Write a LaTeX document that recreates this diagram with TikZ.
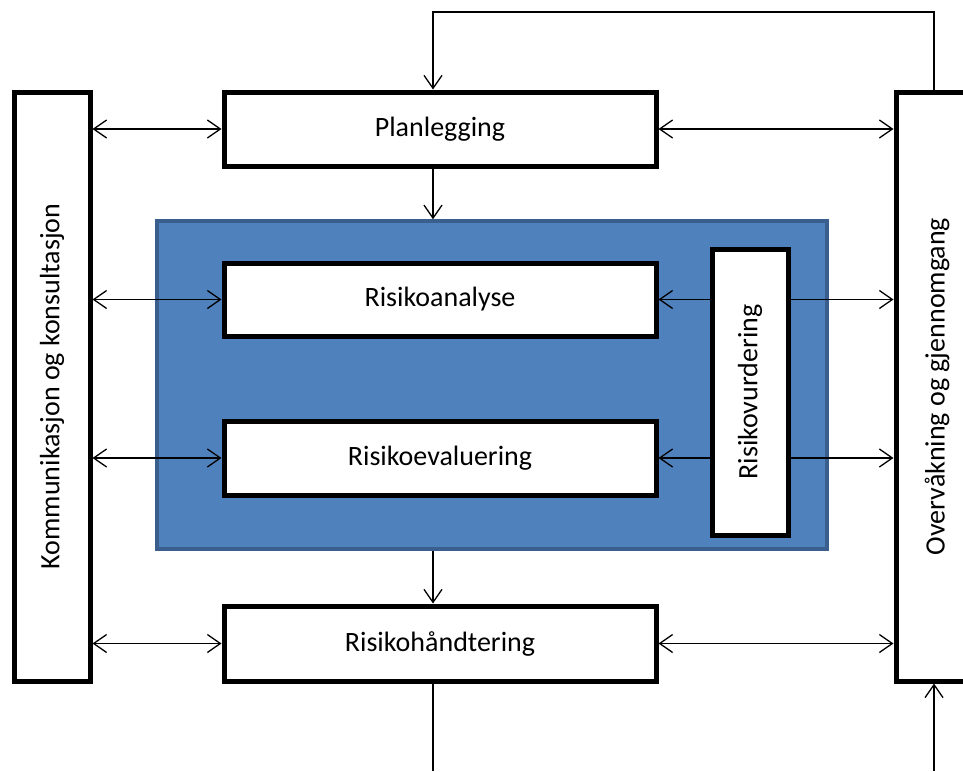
\documentclass[tikz,border=0pt]{standalone}
\usepackage{fontspec}
\setmainfont{Carlito}
\usetikzlibrary{arrows.meta}
\definecolor{panelblue}{HTML}{4F81BD}
\definecolor{paneledge}{HTML}{3A5F8F}
\begin{document}
\begin{tikzpicture}[x=1pt,y=-1pt,
  box/.style={draw=black, line width=5pt, fill=white, rectangle,
    font=\fontsize{28}{32}\selectfont, inner sep=0pt},
  vbox/.style={box, rotate=90},
  link/.style={line width=1.3pt, {Straight Barb[length=13pt,width=18pt,line width=1.3pt]}-{Straight Barb[length=13pt,width=18pt,line width=1.3pt]}},
  flow/.style={line width=1.3pt, -{Straight Barb[length=13pt,width=18pt,line width=1.3pt]}},
  plain/.style={line width=1.3pt}]
\useasboundingbox (0,0) rectangle (963,771);
\clip (0,0) rectangle (963,771);

% blue panel holding the risk assessment steps
\node[draw=paneledge, fill=panelblue, line width=3.5pt, rectangle,
  minimum width=670pt, minimum height=328pt] (panel) at (492,385) {};

% side columns
\node[vbox, minimum width=589pt, minimum height=76pt] (komm) at (52,386.5) {Kommunikasjon og konsultasjon};
\node[vbox, minimum width=589pt, minimum height=82pt] (overv) at (937,386.5) {Overvåkning og gjennomgang};

% process steps
\node[box, minimum width=432pt, minimum height=74pt] (plan) at (440,129) {Planlegging};
\node[box, minimum width=432pt, minimum height=73pt] (analyse) at (440,299.5) {Risikoanalyse};
\node[box, minimum width=432pt, minimum height=74pt] (eval) at (440,458) {Risikoevaluering};
\node[box, minimum width=432pt, minimum height=75pt] (hand) at (440,643.5) {Risikohåndtering};
\node[vbox, minimum width=286pt, minimum height=76pt] (vurd) at (750,392) {Risikovurdering};

% loose ends at the frame border
\coordinate (loopR) at (934,12);
\coordinate (loopL) at (433,12);
\coordinate (outL) at (433,771);
\coordinate (inR) at (934,771);

% communication links on the left
\draw[link] (komm.south |- plan.west) -- (plan.west);
\draw[link] (komm.south |- analyse.west) -- (analyse.west);
\draw[link] (komm.south |- eval.west) -- (eval.west);
\draw[link] (komm.south |- hand.west) -- (hand.west);

% monitoring links on the right
\draw[link] (plan.east) -- (overv.north |- plan.east);
\draw[link] (hand.east) -- (overv.north |- hand.east);
\draw[flow] (vurd.north |- analyse.east) -- (analyse.east);
\draw[flow] (vurd.north |- eval.east) -- (eval.east);
\draw[flow] (vurd.south |- analyse.east) -- (overv.north |- analyse.east);
\draw[flow] (vurd.south |- eval.east) -- (overv.north |- eval.east);

% main flow
\draw[flow] (plan.south -| loopL) -- (panel.north -| loopL);
\draw[flow] (panel.south -| loopL) -- (hand.north -| loopL);
\draw[plain] (hand.south -| outL) -- (outL);
\draw[flow] (inR) -- (overv.west -| inR);
\draw[flow] (overv.east -| loopR) -- (loopR) -- (loopL) -- (plan.north -| loopL);
\end{tikzpicture}
\end{document}
